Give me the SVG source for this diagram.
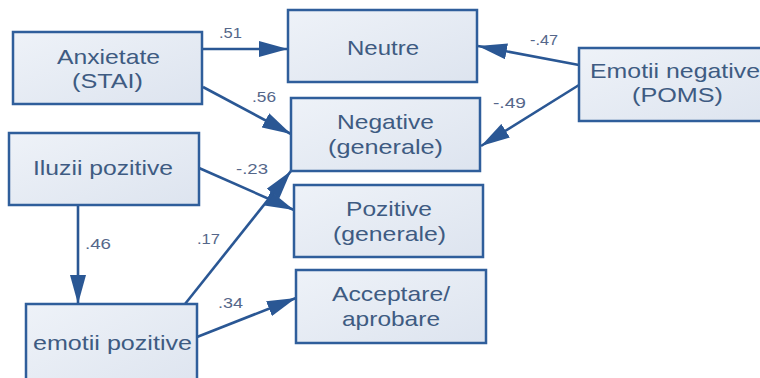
<svg xmlns="http://www.w3.org/2000/svg" width="760" height="378" viewBox="0 0 760 378">
<defs>
<linearGradient id="g" x1="0" y1="0" x2="1" y2="1">
<stop offset="0" stop-color="#EEF2F8"/>
<stop offset="1" stop-color="#DDE4EF"/>
</linearGradient>
<marker id="ah" markerUnits="userSpaceOnUse" markerWidth="30" markerHeight="16" refX="29" refY="8" orient="auto">
<path d="M0,0 L29,8 L0,16 Z" fill="#2A5794"/>
</marker>
<style>
.box{fill:url(#g);stroke:#2F5E9B;stroke-width:2.5}
.t{font-family:"Liberation Sans",Arial,sans-serif;font-size:21px;fill:#3E5B82}
.l{font-family:"Liberation Sans",Arial,sans-serif;font-size:15px;fill:#55678A}
.c{fill:none;stroke:#2A5794;stroke-width:2.6;marker-end:url(#ah)}
</style>
</defs>
<rect width="760" height="378" fill="#FFFFFF"/>
<g id="connectors">
<path class="c" d="M202,49 L288,49"/>
<path class="c" d="M203,87 L291,134"/>
<path class="c" d="M579,65 L478,46"/>
<path class="c" d="M579,85 L481,146"/>
<path class="c" d="M199,168 L294,210"/>
<path class="c" d="M78,205 L78,304"/>
<path class="c" d="M185,304 L291,171"/>
<path class="c" d="M197,337 L296,298"/>
<text class="l" x="219" y="38" textLength="23" lengthAdjust="spacingAndGlyphs">.51</text>
<text class="l" x="252" y="102" textLength="24" lengthAdjust="spacingAndGlyphs">.56</text>
<text class="l" x="530" y="45" textLength="28" lengthAdjust="spacingAndGlyphs">-.47</text>
<text class="l" x="493" y="108" textLength="33" lengthAdjust="spacingAndGlyphs">-.49</text>
<text class="l" x="236" y="174" textLength="32" lengthAdjust="spacingAndGlyphs">-.23</text>
<text class="l" x="85" y="249" textLength="26" lengthAdjust="spacingAndGlyphs">.46</text>
<text class="l" x="197" y="244" textLength="23" lengthAdjust="spacingAndGlyphs">.17</text>
<text class="l" x="218" y="308" textLength="25" lengthAdjust="spacingAndGlyphs">.34</text>
</g>
<g id="anxietate">
<rect class="box" x="13" y="32" width="189" height="72"/>
<text class="t" x="57" y="64" textLength="103" lengthAdjust="spacingAndGlyphs">Anxietate</text>
<text class="t" x="72" y="88" textLength="71" lengthAdjust="spacingAndGlyphs">(STAI)</text>
</g>
<g id="neutre">
<rect class="box" x="288" y="10" width="189" height="72"/>
<text class="t" x="347" y="55" textLength="72" lengthAdjust="spacingAndGlyphs">Neutre</text>
</g>
<g id="negative">
<rect class="box" x="291" y="98" width="189" height="73"/>
<text class="t" x="337" y="129" textLength="97" lengthAdjust="spacingAndGlyphs">Negative</text>
<text class="t" x="328" y="154" textLength="115" lengthAdjust="spacingAndGlyphs">(generale)</text>
</g>
<g id="pozitive">
<rect class="box" x="294" y="185" width="189" height="72"/>
<text class="t" x="346" y="216" textLength="86" lengthAdjust="spacingAndGlyphs">Pozitive</text>
<text class="t" x="333" y="241" textLength="113" lengthAdjust="spacingAndGlyphs">(generale)</text>
</g>
<g id="acceptare">
<rect class="box" x="296" y="270" width="190" height="73"/>
<text class="t" x="332" y="301" textLength="118" lengthAdjust="spacingAndGlyphs">Acceptare/</text>
<text class="t" x="342" y="326" textLength="98" lengthAdjust="spacingAndGlyphs">aprobare</text>
</g>
<g id="emotii-negative">
<rect class="box" x="579" y="48" width="200" height="73"/>
<text class="t" x="590" y="78" textLength="170" lengthAdjust="spacingAndGlyphs">Emotii negative</text>
<text class="t" x="632" y="102" textLength="91" lengthAdjust="spacingAndGlyphs">(POMS)</text>
</g>
<g id="iluzii-pozitive">
<rect class="box" x="9" y="133" width="190" height="72"/>
<text class="t" x="33" y="175" textLength="140" lengthAdjust="spacingAndGlyphs">Iluzii pozitive</text>
</g>
<g id="emotii-pozitive">
<rect class="box" x="26" y="304" width="171" height="90"/>
<text class="t" x="33" y="350" textLength="159" lengthAdjust="spacingAndGlyphs">emotii pozitive</text>
</g>
</svg>
